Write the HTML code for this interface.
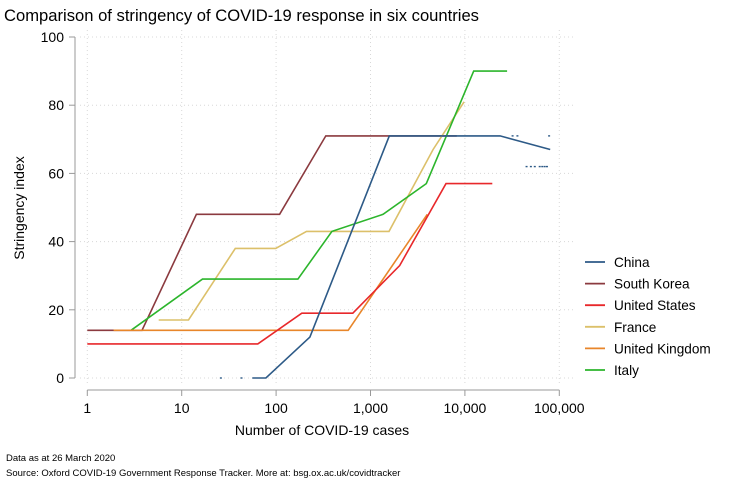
<!DOCTYPE html>
<html><head><meta charset="utf-8"><style>
body{margin:0;background:#fff;}
svg{display:block;font-family:"Liberation Sans",Arial,sans-serif;}
</style></head><body>
<svg id="chart" width="729" height="486">
<text x="4" y="21" font-size="16.6" fill="#000">Comparison of stringency of COVID-19 response in six countries</text>
<g id="grid"></g>
<g id="axes"></g>
<g id="series"></g>
<g id="legend"></g>
<text transform="translate(24,208) rotate(-90)" text-anchor="middle" font-size="14">Stringency index</text>
<text x="322" y="435" text-anchor="middle" font-size="14">Number of COVID-19 cases</text>
<text x="6" y="461" font-size="9.5">Data as at 26 March 2020</text>
<text x="6" y="476" font-size="9.5">Source: Oxford COVID-19 Government Response Tracker. More at: bsg.ox.ac.uk/covidtracker</text>
</svg>
<script>
const xTicks=[1,10,100,1000,10000,100000];
const xTickLabels=["1","10","100","1,000","10,000","100,000"];
const yTicks=[0,20,40,60,80,100];
const seriesNames=["China","South Korea","United States","France","United Kingdom","Italy"];
const seriesColors=["#2d5a87","#8b3a3f","#e8282b","#dcc06a","#e8862a","#2cb52c"];
const chinaCases=[56,78,228,1580,23600,80000];
const chinaValues=[0,0,12,71,71,67];
const koreaCases=[1,3.8,14.3,109,336,8200];
const koreaValues=[14,14,48,48,71,71];
const usCases=[1,64,187,650,2040,6300,19500];
const usValues=[10,10,19,19,33,57,57];
const franceCases=[5.7,11.8,37,99,210,1570,4600,9800];
const franceValues=[17,17,38,38,43,43,67,81];
const ukCases=[1.9,580,4000];
const ukValues=[14,14,48];
const italyCases=[2.9,16.6,170,390,1360,3900,12400,28000];
const italyValues=[14,29,29,43,48,57,90,90];
const chinaDotCases=[26,43,32000,36000,45000,50000,55000,62000,66000,70000,74000,78000];
const chinaDotValues=[0,0,71,71,62,62,62,62,62,62,62,71];

const NS="http://www.w3.org/2000/svg";
const X0=87.3,DEC=94.4,Y0=378,YS=3.41;
function xs(c){return X0+Math.log10(c)*DEC;}
function ys(v){return Y0-v*YS;}
function mk(tag,attrs,parent){const e=document.createElementNS(NS,tag);for(const k in attrs)e.setAttribute(k,attrs[k]);parent.appendChild(e);return e;}
const grid=document.getElementById('grid'),axes=document.getElementById('axes'),ser=document.getElementById('series'),leg=document.getElementById('legend');
xTicks.forEach((t,i)=>{
 const g=mk('line',{x1:xs(t),x2:xs(t),y1:30,y2:384,stroke:'#d8d8d8','stroke-dasharray':'1,3'},grid);
 
 
 const tk=mk('line',{x1:xs(t),x2:xs(t),y1:390,y2:396,stroke:'#999'},axes);
 
 
 const tl=mk('text',{x:xs(t),y:413,'text-anchor':'middle','font-size':14},axes);
 tl.textContent=xTickLabels[i];
 
 
});
yTicks.forEach(t=>{
 const g=mk('line',{x1:80,x2:575,y1:ys(t),y2:ys(t),stroke:'#d8d8d8','stroke-dasharray':'1,3'},grid);
 
 
 const tk=mk('line',{x1:69,x2:75,y1:ys(t),y2:ys(t),stroke:'#999'},axes);
 
 
 const tl=mk('text',{x:64,y:ys(t)+5,'text-anchor':'end','font-size':14},axes);
 tl.textContent=String(t);
 
 
});
const ya=mk('line',{x1:75,x2:75,y1:ys(100),y2:ys(0),stroke:'#999'},axes);


const xa=mk('line',{x1:xs(1),x2:xs(100000),y1:390,y2:390,stroke:'#999'},axes);


const all=[[chinaCases,chinaValues],[koreaCases,koreaValues],[usCases,usValues],[franceCases,franceValues],[ukCases,ukValues],[italyCases,italyValues]];
const drawOrder=[1,3,5,4,2,0];
drawOrder.forEach(i=>{
 const [c,v]=all[i];
 const pts=c.map((cc,j)=>xs(cc).toFixed(1)+','+ys(v[j]).toFixed(1)).join(' ');
 const pl=mk('polyline',{points:pts,fill:'none',stroke:seriesColors[i],'stroke-width':1.6},ser);
 
 
});
chinaDotCases.forEach((c,j)=>{
 const d=mk('rect',{x:xs(c)-1,y:ys(chinaDotValues[j])-0.7,width:2,height:1.4,fill:seriesColors[0]},ser);
 
 
});
seriesNames.forEach((n,i)=>{
 const y=262+i*21.6;
 const l=mk('line',{x1:585,x2:605,y1:y,y2:y,stroke:seriesColors[i],'stroke-width':1.8},leg);
 
 
 const t=mk('text',{x:614,y:y+5,'font-size':13.6},leg);
 t.textContent=n;
 
 
});
</script>
</body></html>
